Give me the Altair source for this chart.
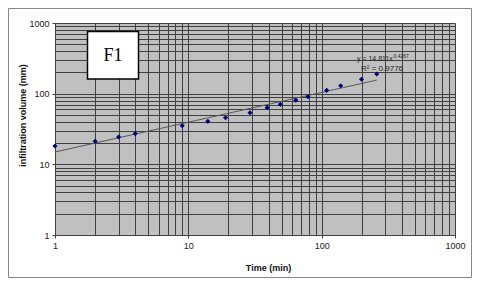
import altair as alt
import pandas as pd

# Data
time_min = [1, 2, 3, 4, 9, 14, 19, 29, 39, 49, 64, 79, 109, 139, 199, 259]
infil_mm = [18.2, 21.2, 24.4, 27.2, 35.2, 40.6, 45.7, 53.8, 63.4, 70.6, 80.5, 90.6, 111.5, 129.7, 159.6, 189.7]
log_ticks = [1, 2, 3, 4, 5, 6, 7, 8, 9, 10, 20, 30, 40, 50, 60, 70, 80, 90,
             100, 200, 300, 400, 500, 600, 700, 800, 900, 1000]
eq_line1 = "y = 14.811x"
eq_sup = "0.4267"
eq_line2 = "R² = 0.9776"
panel_label = "F1"

df = pd.DataFrame({"t": time_min, "v": infil_mm})

major = "datum.value==1||datum.value==10||datum.value==100||datum.value==1000"
GRID = "#404040"
FONT = "Liberation Sans"

x_axis = alt.Axis(
    values=log_ticks, format="d",
    labelExpr=f"({major}) ? datum.label : ''",
    grid=True, gridColor=GRID, gridWidth=1, gridOpacity=1,
    domainColor=GRID, tickSize=3,
    tickColor={"condition": {"test": major, "value": GRID}, "value": "transparent"},
    labelFont=FONT, labelFontSize=9, labelColor="#222", labelPadding=3,
    labelOverlap=False, labelFlush=False,
    title="Time  (min)", titleFont=FONT, titleFontSize=9, titleFontWeight="bold",
    titleColor="#111", titleX=213, titleY=32, titleBaseline="middle",
)
y_axis = alt.Axis(
    values=log_ticks, format="d",
    labelExpr=f"({major}) ? datum.label : ''",
    grid=True, gridColor=GRID, gridWidth=1, gridOpacity=1,
    domainColor=GRID, tickSize=3,
    tickColor={"condition": {"test": major, "value": GRID}, "value": "transparent"},
    labelFont=FONT, labelFontSize=9, labelColor="#222", labelPadding=3,
    labelOverlap=False, labelFlush=False,
    title="infiltration volume (mm)", titleFont=FONT, titleFontSize=9,
    titleFontWeight="bold", titleColor="#111", titleX=-33, titleY=92,
    titleAngle=-90, titleBaseline="middle", titleAlign="center",
)

xs = alt.Scale(type="log", domain=[1, 1000], nice=False)
ys = alt.Scale(type="log", domain=[1, 1000], nice=False)

base = alt.Chart(df)

points = base.mark_point(shape="diamond", filled=True, size=26, color="#000080", opacity=1).encode(
    x=alt.X("t:Q", scale=xs, axis=x_axis),
    y=alt.Y("v:Q", scale=ys, axis=y_axis),
)

trend = base.transform_regression("t", "v", method="pow").mark_line(
    color="#555555", strokeWidth=1
).encode(x=alt.X("t:Q", scale=xs), y=alt.Y("v:Q", scale=ys))

one = alt.Data(values=[{"a": 1}])

frame = alt.Chart(one).mark_rect(fill=None, stroke="#888888", strokeWidth=1).encode(
    x=alt.value(-46.5), x2=alt.value(416.5), y=alt.value(-14.5), y2=alt.value(254.5)
)

box = alt.Chart(one).mark_rect(fill="white", stroke="black", strokeWidth=1.5).encode(
    x=alt.value(32.5), x2=alt.value(83.5), y=alt.value(8.5), y2=alt.value(56)
)
box_text = alt.Chart(one).mark_text(
    text=panel_label, font="Liberation Serif", fontSize=18, color="black",
    align="center", baseline="middle"
).encode(x=alt.value(58), y=alt.value(33))

eq1 = alt.Chart(one).mark_text(
    text=eq_line1, font=FONT, fontSize=7, color="#222", align="left", baseline="middle"
).encode(x=alt.value(302), y=alt.value(36))
eq1s = alt.Chart(one).mark_text(
    text=eq_sup, font=FONT, fontSize=5, color="#222", align="left", baseline="middle"
).encode(x=alt.value(338.5), y=alt.value(32.5))
eq2 = alt.Chart(one).mark_text(
    text=eq_line2, font=FONT, fontSize=8, color="#222", align="left", baseline="middle"
).encode(x=alt.value(306), y=alt.value(45.5))

chart = alt.layer(
    frame, trend, points, box, box_text, eq1, eq1s, eq2
).properties(
    width=400, height=212,
    autosize=alt.AutoSizeParams(type="none"),
    padding={"left": 47, "top": 15, "right": 17, "bottom": 43},
    background="white",
).configure_view(fill="#c0c0c0", stroke=None)

chart.save("out.html", embed_options={"renderer": "svg", "actions": False})
